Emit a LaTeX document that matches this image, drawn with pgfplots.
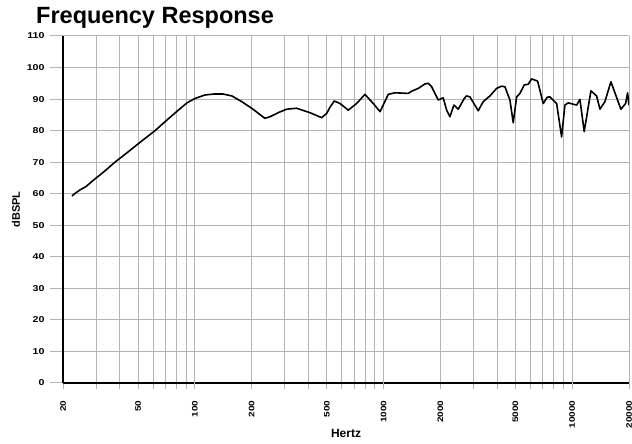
\documentclass[border=0pt]{standalone}
\usepackage{fontspec}
\setmainfont{Liberation Sans}
\newfontfamily\tickfont[FakeStretch=1.25]{Liberation Sans}
\usepackage{pgfplots}
\pgfplotsset{compat=1.18}
\definecolor{gridgray}{HTML}{B4B4B4}
\begin{document}
\begin{tikzpicture}
\begin{axis}[
  scale only axis, width=566pt, height=347pt,
  xmode=log, xmin=20, xmax=20000, ymin=0, ymax=110,
  xtick={20,50,100,200,500,1000,2000,5000,10000,20000},
  xticklabels={20,50,100,200,500,1000,2000,5000,10000,20000},
  minor xtick={30,40,60,70,80,90,300,400,600,700,800,900,3000,4000,6000,7000,8000,9000},
  ytick={0,10,20,30,40,50,60,70,80,90,100,110},
  yticklabels={0,10,20,30,40,50,60,70,80,90,100,110},
  extra x ticks={100,1000,10000},
  extra x tick labels={},
  extra x tick style={/pgfplots/major tick length=13pt},
  grid=both,
  major grid style={gridgray, line width=1pt},
  minor grid style={gridgray, line width=1pt},
  tick align=outside,
  xtick style={gridgray, line width=1pt, /pgfplots/major tick length=6pt, /pgfplots/minor tick length=6pt},
  ytick style={gridgray, line width=1pt, /pgfplots/major tick length=13pt},
  axis x line*=bottom, axis y line*=left,
  axis line style={black, line width=1.8pt},
  xticklabel style={rotate=90, anchor=east, inner sep=0pt, xshift=-13pt, font=\tickfont\bfseries\fontsize{8}{9}\selectfont},
  yticklabel style={anchor=east, inner sep=0pt, xshift=-14pt, font=\tickfont\bfseries\fontsize{8.5}{10}\selectfont},
  xlabel={Hertz},
  ylabel={dBSPL},
  xlabel style={at={(axis description cs:0.5,0)}, anchor=base, yshift=-54.7pt, inner sep=0pt, font=\bfseries\fontsize{12}{14}\selectfont},
  ylabel style={at={(axis description cs:0,0.5)}, anchor=center, rotate=0, yshift=47pt, inner sep=0pt, font=\bfseries\fontsize{11}{13}\selectfont},
  title={Frequency Response},
  title style={at={(axis description cs:0,1)}, anchor=base west, xshift=-27pt, yshift=6pt, inner sep=0pt, font=\bfseries\fontsize{23.5}{28}\selectfont},
]
\addplot[black, line width=1.6pt, line join=round] coordinates {
(22.3,59.3) (23.4,60.3) (24.6,61.2) (26.5,62.3) (29.0,64.3) (33.0,67.0)
(37.7,70.0) (43.7,73.0) (51.2,76.3) (61.5,80.0) (70.9,83.3) (81.7,86.5)
(90.8,88.8) (100.1,90.2) (113,91.3) (126,91.6) (141,91.6) (157,91.0)
(176,89.3) (200,87.1) (235,83.9) (250,84.4) (279,85.8) (307,86.8)
(346,87.1) (407,85.7) (470,84.1) (500,85.5) (520,87.4) (548,89.4)
(588,88.6) (650,86.5) (720,88.6) (797,91.5) (882,88.6) (958,86.0)
(1059,91.5) (1149,92.0) (1352,91.8) (1409,92.5) (1528,93.4) (1658,94.8)
(1726,95.0) (1799,93.9) (1950,89.7) (2071,90.4) (2160,86.5) (2248,84.4)
(2360,88.1) (2488,86.8) (2678,90.2) (2754,91.0) (2870,90.7) (3176,86.3)
(3376,89.2) (3664,91.0) (3976,93.4) (4226,94.1) (4400,93.9) (4676,89.7)
(4868,82.5) (5074,90.7) (5282,91.8) (5568,94.5) (5846,94.7) (6094,96.4)
(6556,95.7) (7022,88.6) (7372,90.6) (7616,90.7) (8268,88.6) (8786,78.0)
(9148,88.1) (9524,88.8) (10554,88.1) (10988,89.9) (11576,79.7) (12564,92.6)
(13466,91.0) (14026,86.8) (14906,89.2) (16036,95.5) (18114,86.8) (19188,88.6)
(19662,92.0) (20000,88.0)
};
\end{axis}
\pgfresetboundingbox
\path[use as bounding box] (-63pt,-61pt) rectangle (569pt,383pt);
\end{tikzpicture}
\end{document}
